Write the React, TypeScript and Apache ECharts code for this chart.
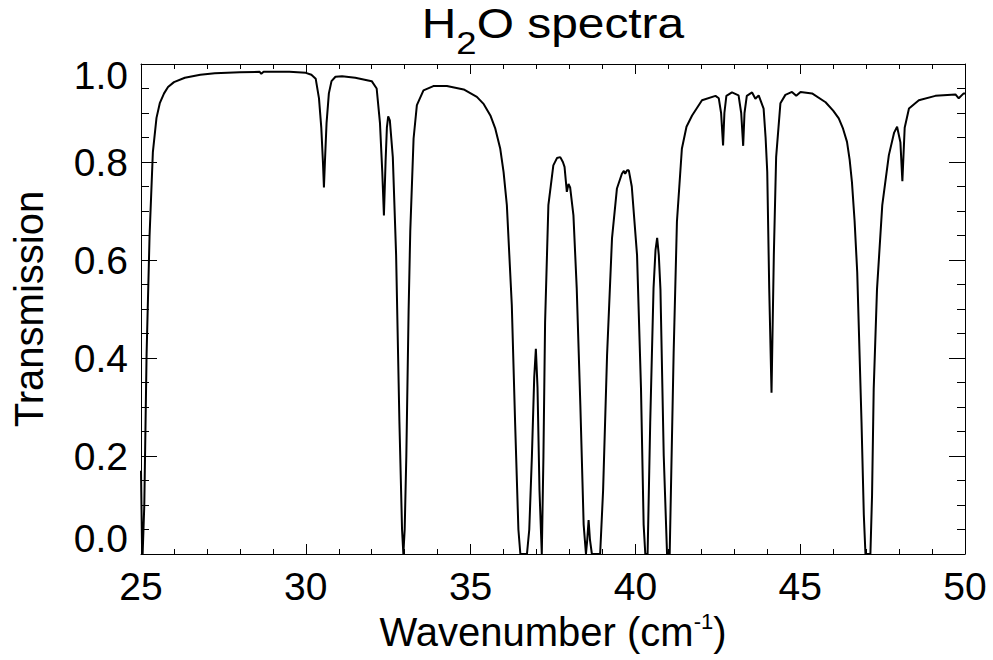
import React, { useEffect, useRef } from "react";
import * as echarts from "echarts";

// Wavenumber (cm-1) and transmission
const WAVENUMBER: number[] = [
  25.0, 25.03, 25.05, 25.1, 25.17, 25.26, 25.36, 25.47, 25.57, 25.7,
  25.82, 26.0, 26.33, 26.8, 27.24, 28.0, 28.6, 28.65, 28.72, 29.5,
  30.0, 30.17, 30.3, 30.4, 30.47, 30.52, 30.55, 30.58, 30.63, 30.7,
  30.78, 30.9, 31.1, 31.5, 32.0, 32.15, 32.25, 32.32, 32.37, 32.42,
  32.46, 32.5, 32.55, 32.64, 32.74, 32.84, 32.92, 32.96, 33.0, 33.05,
  33.12, 33.17, 33.27, 33.37, 33.57, 33.87, 34.28, 34.79, 35.19, 35.4,
  35.6, 35.75, 35.9, 36.0, 36.1, 36.25, 36.35, 36.45, 36.51, 36.71,
  36.78, 36.86, 36.93, 36.98, 37.03, 37.09, 37.16, 37.21, 37.26, 37.36,
  37.51, 37.62, 37.72, 37.8, 37.85, 37.92, 37.97, 38.02, 38.12, 38.22,
  38.33, 38.43, 38.5, 38.54, 38.58, 38.62, 38.68, 38.93, 39.02, 39.14,
  39.29, 39.44, 39.59, 39.65, 39.69, 39.75, 39.8, 39.89, 40.05, 40.17,
  40.25, 40.3, 40.37, 40.45, 40.55, 40.61, 40.66, 40.71, 40.76, 40.86,
  40.96, 41.04, 41.16, 41.26, 41.41, 41.55, 41.72, 42.02, 42.43, 42.53,
  42.6, 42.66, 42.7, 42.76, 42.93, 43.13, 43.21, 43.27, 43.31, 43.38,
  43.54, 43.64, 43.74, 43.89, 43.95, 44.0, 44.06, 44.13, 44.2, 44.27,
  44.4, 44.55, 44.75, 44.88, 45.01, 45.36, 45.77, 46.0, 46.17, 46.3,
  46.42, 46.5, 46.57, 46.65, 46.73, 46.86, 46.93, 46.98, 47.13, 47.18,
  47.23, 47.33, 47.49, 47.69, 47.85, 47.94, 48.04, 48.1, 48.17, 48.3,
  48.6, 49.1, 49.71, 49.81, 49.96, 50.0,
];

const TRANSMISSION: number[] = [
  0.17, 0.02, 0.0, 0.1, 0.41, 0.65, 0.82, 0.89, 0.92, 0.94,
  0.953, 0.963, 0.972, 0.978, 0.981, 0.983, 0.984, 0.98, 0.984, 0.984,
  0.982, 0.978, 0.97, 0.93, 0.87, 0.8, 0.748, 0.8, 0.88, 0.94,
  0.965, 0.974, 0.975, 0.972, 0.965, 0.95, 0.88, 0.78, 0.691, 0.8,
  0.87, 0.893, 0.885, 0.81, 0.61, 0.27, 0.05, 0.0, 0.05, 0.2,
  0.5, 0.66, 0.848, 0.916, 0.946, 0.955, 0.955, 0.948, 0.933, 0.918,
  0.895, 0.868, 0.827, 0.78, 0.712, 0.508, 0.269, 0.05, 0.0, 0.0,
  0.05, 0.2, 0.36, 0.419, 0.34, 0.13, 0.0, 0.2, 0.473, 0.712,
  0.793, 0.808, 0.81, 0.8, 0.79, 0.739, 0.755, 0.748, 0.691, 0.542,
  0.303, 0.06, 0.0, 0.03, 0.069, 0.03, 0.0, 0.0, 0.13, 0.405,
  0.644, 0.746, 0.776, 0.782, 0.776, 0.783, 0.783, 0.75, 0.61, 0.337,
  0.06, 0.0, 0.0, 0.27, 0.542, 0.62, 0.645, 0.61, 0.54, 0.2,
  0.0, 0.0, 0.41, 0.678, 0.827, 0.872, 0.895, 0.926, 0.935, 0.93,
  0.9, 0.834, 0.9, 0.935, 0.942, 0.936, 0.9, 0.833, 0.9, 0.935,
  0.942, 0.929, 0.936, 0.909, 0.85, 0.78, 0.542, 0.329, 0.61, 0.81,
  0.92, 0.937, 0.943, 0.935, 0.943, 0.94, 0.922, 0.905, 0.889, 0.868,
  0.841, 0.805, 0.759, 0.68, 0.575, 0.27, 0.08, 0.0, 0.0, 0.12,
  0.337, 0.54, 0.712, 0.814, 0.86, 0.872, 0.84, 0.761, 0.87, 0.909,
  0.926, 0.935, 0.938, 0.93, 0.94, 0.94,
];

const X_RANGE = [25, 50];
const X_INTERVAL = 5;
const Y_RANGE = [0, 1];
const Y_INTERVAL = 0.2;

const FONT = "'Liberation Sans', Arial, Helvetica, sans-serif";

export default function App() {
  const ref = useRef<HTMLDivElement>(null);

  useEffect(() => {
    if (!ref.current) return;
    const chart = echarts.init(ref.current, undefined, { renderer: "svg" });
    const data = WAVENUMBER.map((w, i) => [w, TRANSMISSION[i]]);

    const lineStyle = { color: "#000", width: 1 };

    const xBase = (pos: "bottom" | "top", labels: boolean): any => ({
      type: "value",
      position: pos,
      min: X_RANGE[0],
      max: X_RANGE[1],
      interval: X_INTERVAL,
      axisLine: { show: true, onZero: false, lineStyle },
      axisTick: { show: true, inside: true, length: 10, lineStyle },
      minorTick: { show: true, splitNumber: 5, length: 5, lineStyle },
      splitLine: { show: false },
      minorSplitLine: { show: false },
      axisLabel: {
        show: labels,
        fontSize: 39,
        color: "#000",
        fontFamily: FONT,
        margin: 13,
      },
    });

    const yBase = (pos: "left" | "right", labels: boolean): any => ({
      type: "value",
      position: pos,
      min: Y_RANGE[0],
      max: Y_RANGE[1],
      interval: Y_INTERVAL,
      axisLine: { show: true, onZero: false, lineStyle },
      axisTick: { show: true, inside: true, length: 16, lineStyle },
      minorTick: { show: true, splitNumber: 4, length: 8, lineStyle },
      splitLine: { show: false },
      minorSplitLine: { show: false },
      axisLabel: {
        show: labels,
        fontSize: 39,
        color: "#000",
        fontFamily: FONT,
        margin: 13,
        formatter: (v: number) => {
          const s = v.toFixed(1);
          if (Math.abs(v - Y_RANGE[0]) < 1e-9) return `{lo|${s}}`;
          if (Math.abs(v - Y_RANGE[1]) < 1e-9) return `{hi|${s}}`;
          return s;
        },
        rich: {
          lo: { fontSize: 39, fontFamily: FONT, color: "#000", padding: [0, 0, 31, 0] },
          hi: { fontSize: 39, fontFamily: FONT, color: "#000", padding: [22, 0, 0, 0] },
        },
      },
    });

    const xMain = xBase("bottom", true);
    xMain.name = "{m|Wavenumber (cm}{p|-1}{m|)}";
    xMain.nameLocation = "middle";
    xMain.nameGap = 53;
    xMain.nameTextStyle = {
      rich: {
        m: { fontSize: 40, fontFamily: FONT, color: "#000", lineHeight: 44 },
        p: { fontSize: 22, fontFamily: FONT, color: "#000", lineHeight: 22, padding: [0, 0, 20, 0] },
      },
    };

    const yMain = yBase("left", true);
    yMain.name = "Transmission";
    yMain.nameLocation = "middle";
    yMain.nameGap = 92;
    yMain.nameTextStyle = { fontSize: 40, fontFamily: FONT, color: "#000" };

    chart.setOption({
      animation: false,
      backgroundColor: "#fff",
      grid: { left: 141, right: 28, top: 64, bottom: 106, containLabel: false },
      xAxis: [xMain, xBase("top", false)],
      yAxis: [yMain, yBase("right", false)],
      graphic: [
        {
          type: "text",
          x: 553,
          y: 3,
          scaleX: 1.14,
          style: {
            text: "{m|H}{s|2}{m|O spectra}",
            align: "center",
            verticalAlign: "top",
            rich: {
              m: { fontSize: 42, fontFamily: FONT, fill: "#000", lineHeight: 43, verticalAlign: "top" },
              s: {
                fontSize: 32,
                fontFamily: FONT,
                fill: "#000",
                lineHeight: 32,
                verticalAlign: "top",
                padding: [24, 0, 0, 0],
              },
            },
          },
        },
      ],
      series: [
        {
          type: "line",
          xAxisIndex: 0,
          yAxisIndex: 0,
          data,
          showSymbol: false,
          symbol: "none",
          smooth: false,
          lineStyle: { color: "#000", width: 2 },
          clip: true,
        },
      ],
    });

    return () => chart.dispose();
  }, []);

  return (
    <div
      ref={ref}
      style={{ position: "fixed", left: 0, top: 0, width: 993, height: 660, background: "#fff" }}
    />
  );
}
